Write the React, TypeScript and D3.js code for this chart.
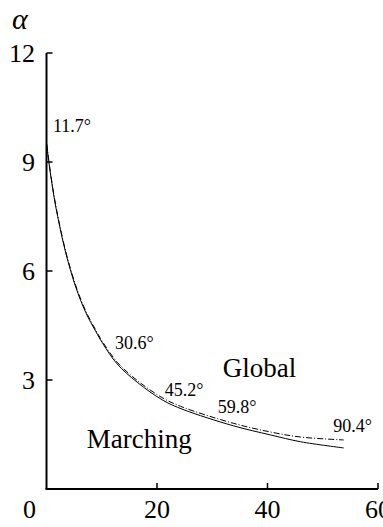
import React from "react";
import * as d3 from "d3";

const W = 383;
const H = 527;

// Curve data (x: abscissa, alpha)
const curveX = [0.05, 0.45, 1.36, 2.26, 3.48, 5.29, 7.1, 8.9, 10.2, 12.8, 16.4, 21.1, 24.7, 33.8, 40.5, 46.0, 53.8];
const marchingY = [9.47, 8.97, 8.04, 7.32, 6.5, 5.56, 4.86, 4.34, 4.0, 3.44, 2.94, 2.44, 2.19, 1.74, 1.49, 1.3, 1.13];
const globalY = [9.5, 9.0, 8.08, 7.36, 6.54, 5.6, 4.9, 4.38, 4.04, 3.49, 2.99, 2.5, 2.25, 1.81, 1.57, 1.43, 1.35];

const xTicks = [0, 20, 40, 60];
const yTicks = [3, 6, 9, 12];

const angleLabels = ["11.7°", "30.6°", "45.2°", "59.8°", "90.4°"];
const angleX = [1.18, 12.4, 21.4, 31.0, 51.9];
const angleY = [9.83, 3.85, 2.56, 2.09, 1.57];

const seriesNames = ["Global", "Marching"];
const seriesLabelX = [31.9, 7.3];
const seriesLabelY = [3.08, 1.13];

const FONT = "Liberation Serif";

export default function App() {
  const x = d3.scaleLinear().domain([0, 60]).range([46.5, 378]);
  const y = d3.scaleLinear().domain([0, 12]).range([489, 53]);
  const line = d3
    .line<[number, number]>()
    .x((d) => x(d[0]))
    .y((d) => y(d[1]))
    .curve(d3.curveCatmullRom.alpha(0.5));
  const marching = curveX.map((v, i) => [v, marchingY[i]] as [number, number]);
  const global = curveX.map((v, i) => [v, globalY[i]] as [number, number]);

  return (
    <svg
      width={W}
      height={H}
      style={{ position: "absolute", left: 0, top: 0, background: "#fff" }}
      fontFamily={FONT}
    >
      <rect width={W} height={H} fill="#fff" />
      {/* axes */}
      <line x1={x(0)} x2={x(0)} y1={y(12)} y2={y(0)} stroke="#000" strokeWidth={2} />
      <line x1={x(0) - 1} x2={x(60)} y1={y(0)} y2={y(0)} stroke="#000" strokeWidth={2} />
      {yTicks.map((t) => (
        <g key={"y" + t}>
          <line x1={x(0)} x2={x(0) + 6} y1={y(t)} y2={y(t)} stroke="#000" strokeWidth={1.5} />
          <text x={35} y={y(t)} dy="0.35em" textAnchor="end" fontSize={26} fontFamily={FONT}>
            {t}
          </text>
        </g>
      ))}
      {xTicks.map((t) => (
        <g key={"x" + t}>
          {t > 0 && (
            <line x1={x(t)} x2={x(t)} y1={y(0)} y2={y(0) - 6} stroke="#000" strokeWidth={1.5} />
          )}
          <text x={t === 0 ? 29.5 : x(t)} y={518} textAnchor="middle" fontSize={26} fontFamily={FONT}>
            {t}
          </text>
        </g>
      ))}
      <text x={12} y={29} fontSize={30} fontStyle="italic" fontFamily={FONT}>
        α
      </text>
      {/* curves */}
      <path d={line(global) || ""} fill="none" stroke="#000" strokeWidth={1} strokeDasharray="6,2,1,2" />
      <path d={line(marching) || ""} fill="none" stroke="#000" strokeWidth={1} />
      {angleLabels.map((l, i) => (
        <text key={l} x={x(angleX[i])} y={y(angleY[i])} fontSize={18} fontFamily={FONT}>
          {l}
        </text>
      ))}
      {seriesNames.map((n, i) => (
        <text key={n} x={x(seriesLabelX[i])} y={y(seriesLabelY[i])} fontSize={27} fontFamily={FONT}>
          {n}
        </text>
      ))}
    </svg>
  );
}
